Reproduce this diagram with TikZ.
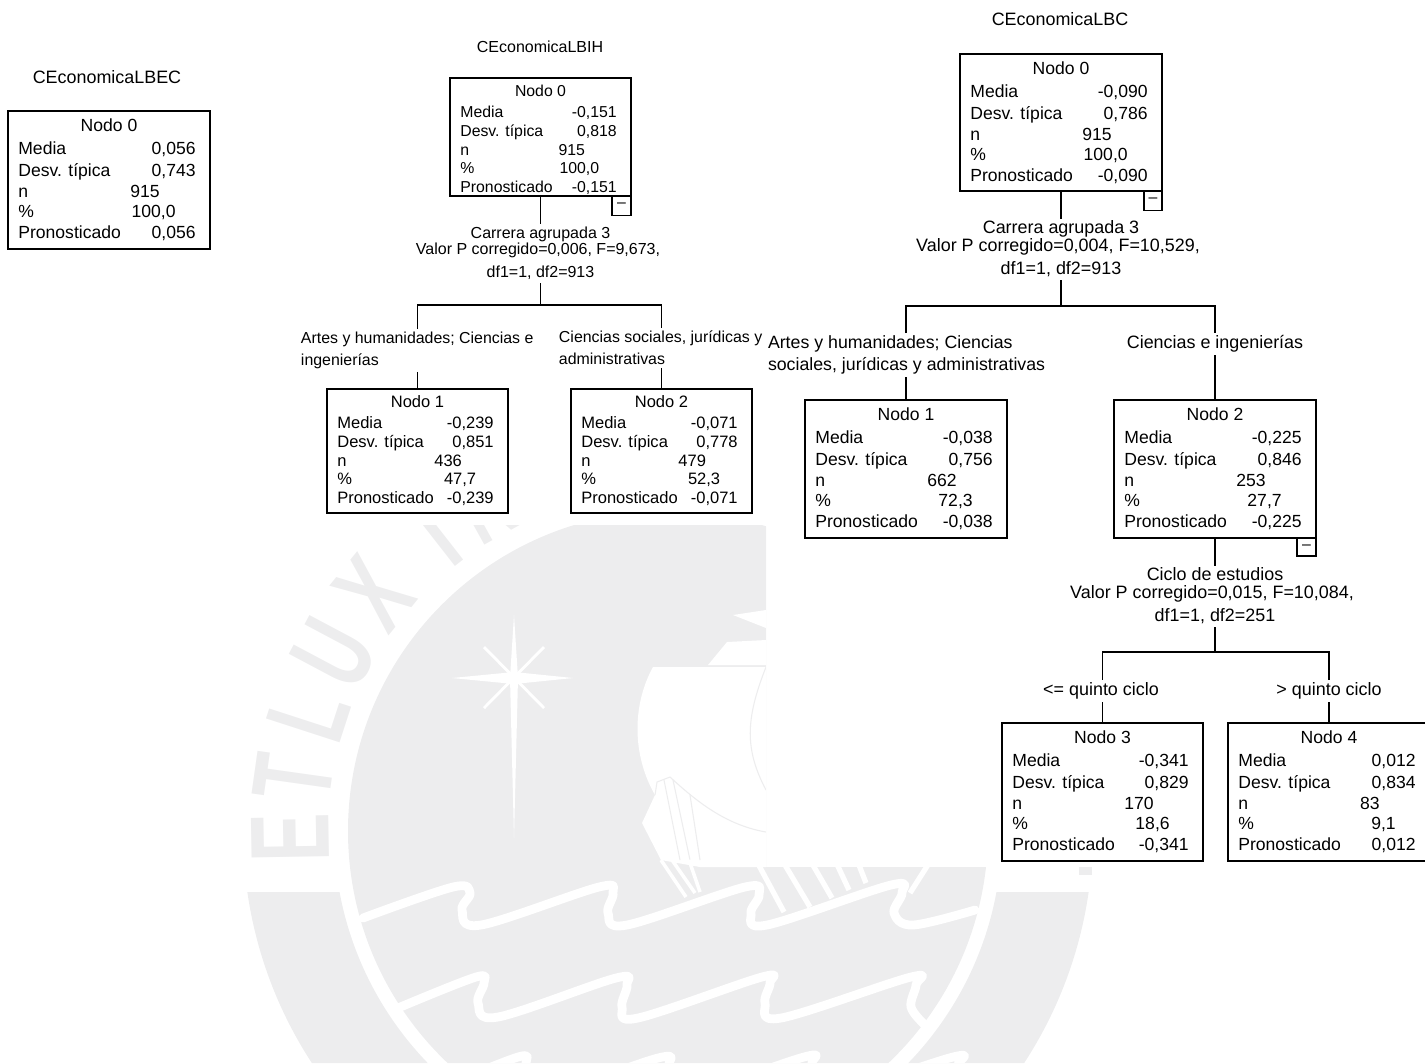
\documentclass[tikz,border=0pt]{standalone}
\usepackage{fontspec}
\setmainfont{Liberation Sans}
\definecolor{sello}{HTML}{EDEDEE}

\begin{document}
\begin{tikzpicture}[x=0.02cm, y=-0.02cm,
  caja/.style={draw, rectangle, line width=0.72pt, inner sep=0pt, outer sep=0pt, anchor=north west},
  fila/.style={inner sep=0pt, text height=7pt, text depth=2pt},
  etq/.style={inner sep=1pt, text height=7pt, text depth=2pt, font=\fontsize{#1}{12.5}\selectfont},
  rama/.style={inner sep=1.5pt, align=left, font=\fontsize{#1}{12.5}\selectfont},
  titulo/.style={inner sep=1pt, font=\fontsize{#1}{12}\selectfont},
  menos/.style={draw, rectangle, line width=0.72pt, inner sep=0pt, outer sep=0pt, minimum width=10.8pt, minimum height=11pt, anchor=north east, font=\fontsize{9}{9}\selectfont},
  linea/.style={line width=0.72pt},
  ola/.style={color=white, line width=5pt, line cap=round, line join=round}]
\useasboundingbox (0,0) rectangle (1425,1063);

% sello de fondo
\begin{scope}
\clip (0,525) -- (766,525) -- (766,867) -- (1425,867) -- (1425,1063) -- (0,1063) -- cycle;
\begin{scope}
\clip (0,892) rectangle (1425,1063);
\fill [sello, even odd rule] (668,831) circle (425) (668,831) circle (334);
\end{scope}
\foreach \letra/\ang in {E/181, T/172, L/162, U/152, X/141, I/128, N/119} {
  \node [text=sello, inner sep=0pt, rotate=\ang-90, font=\bfseries\fontsize{64}{64}\selectfont] (sl\letra)
    at ({668+378*cos(\ang)},{831-378*sin(\ang)}) {\scalebox{0.65}[1]{\letra}};
}
\fill [sello] (1079,867) rectangle (1092,875);
\fill [sello] (668,831) circle (320);
% estrella
\fill [white] (514,615) -- (518,678) -- (514,838) -- (510,678) -- cycle;
\fill [white] (452,678) -- (514,672) -- (573,678) -- (514,684) -- cycle;
\draw [white, line width=1.6pt] (484,647) -- (544,708) (544,647) -- (484,708);
% barco
\fill [white] (733,615) -- (766,610) -- (766,628) -- cycle;
\fill [white] (708,665) -- (727,642) -- (766,640) -- (766,665) -- cycle;
\fill [white] (653,667) -- (766,667) -- (766,867) -- (700,867) -- (661,860) -- (642,823) -- (655,795)
  .. controls (632,755) and (632,705) .. (653,667) -- cycle;
\draw [sello, line width=0.6pt] (655,795) -- (657,782) -- (670,777) .. controls (695,800) and (725,825) .. (766,832);
\draw [sello, line width=0.6pt] (766,667) .. controls (745,720) and (745,750) .. (766,790);
\draw [sello, line width=0.6pt] (664,780) -- (680,860) (673,780) -- (690,860) (690,795) -- (700,860);
\draw [white, line width=2pt] (661,860) -- (686,897) (672,860) -- (695,893) (689,860) -- (700,892);
\draw [white, line width=3pt] (756,860) -- (784,912) (782,860) -- (810,907) (810,860) -- (832,898)
  (835,860) -- (849,890) (857,860) -- (866,883) (910,893) -- (931,860);
% olas
\draw [ola] plot [smooth, tension=0.6] coordinates {(363,918) (453,887) (470,893) (462,910) (481,925) (599,887) (613,893) (608,913) (627,925) (745,887) (759,895) (751,913) (767,925) (891,885) (902,893) (894,913) (913,925) (975,910)};
\foreach \dx/\dy in {0/0, 42/80} {
  \begin{scope}[shift={(\dx,\dy)}]
  \draw [ola] plot [smooth, tension=0.6] coordinates {(398,1008) (476,977) (484,983) (478,1003) (498,1017) (616,978) (627,985) (622,1007) (638,1018) (762,977) (770,983) (765,1003) (781,1018) (911,977) (916,985) (911,1007) (925,1025)};
  \end{scope}
}
\end{scope}

% cajas
\foreach \nm/\xl/\yt/\w/\h/\k/\fs/\nodo/\med/\dt/\cnt/\pct in {
  a0/8/111/202/138/1/10/0/{0,056}/{0,743}/915/{100,0},
  b0/450/78/181/118/0.89/9/0/{-0,151}/{0,818}/915/{100,0},
  b1/327/389/181/124/0.89/9.4/1/{-0,239}/{0,851}/436/{47,7},
  b2/571/389/181/124/0.89/9.4/2/{-0,071}/{0,778}/479/{52,3},
  c0/960/54/202/137/1/10/0/{-0,090}/{0,786}/915/{100,0},
  c1/805/400/202/138/1/10/1/{-0,038}/{0,756}/662/{72,3},
  c2/1114/400/202/138/1/10/2/{-0,225}/{0,846}/253/{27,7},
  c3/1002/723/201/138/1/10/3/{-0,341}/{0,829}/170/{18,6},
  c4/1228/723/202/138/1/10/4/{0,012}/{0,834}/83/{9,1}} {
  \node [caja, minimum width=\w*0.02cm, minimum height=\h*0.02cm] (\nm) at (\xl,\yt) {};
  \begin{scope}[every node/.append style={fila, font=\fontsize{\fs}{12}\selectfont}]
  \node (\nm-tit) at ({\xl+\w/2},{\yt+2+14*\k}) {Nodo \nodo};
  \node [anchor=west] (\nm-l1) at ({\xl+10},{\yt+2+37*\k}) {Media};
  \node [anchor=east] (\nm-v1) at ({\xl+\w-14},{\yt+2+37*\k}) {\med};
  \node [anchor=west] (\nm-l2) at ({\xl+10},{\yt+2+59*\k}) {Desv. típica};
  \node [anchor=east] (\nm-v2) at ({\xl+\w-14},{\yt+2+59*\k}) {\dt};
  \node [anchor=west] (\nm-l3) at ({\xl+10},{\yt+2+80*\k}) {n};
  \node [anchor=east] (\nm-v3) at ({\xl+152*\k},{\yt+2+80*\k}) {\cnt};
  \node [anchor=west] (\nm-l4) at ({\xl+10},{\yt+2+100*\k}) {\%};
  \node [anchor=east] (\nm-v4) at ({\xl+168*\k},{\yt+2+100*\k}) {\pct};
  \node [anchor=west] (\nm-l5) at ({\xl+10},{\yt+2+121*\k}) {Pronosticado};
  \node [anchor=east] (\nm-v5) at ({\xl+\w-14},{\yt+2+121*\k}) {\med};
  \end{scope}
}

% primer arbol
\node [titulo=10.2] (aTit) at (107,77) {CEconomicaLBEC};

% segundo arbol
\node [titulo=9.1] (bTit) at (540,47) {CEconomicaLBIH};
\node [menos] (bMenos) at (b0.south east) {\textendash};
\node [etq=9.1] (bVar) at (540.5,234) {Carrera agrupada 3};
\node [etq=9.1] (bVal) at (538,250) {Valor P corregido=0,006, F=9,673,};
\node [etq=9.1] (bDf) at (540.5,273) {df1=1, df2=913};
\coordinate (bBar) at (b0.south |- 0,305);
\node [rama=9.05, anchor=north west] (bIzq) at (298,329) {Artes y humanidades; Ciencias e\\ingenierías};
\node [rama=9.05, anchor=north west] (bDer) at (556,328) {Ciencias sociales, jurídicas y\\administrativas};
\draw [linea] (b0.south) -- (b0.south |- bVar.north);
\draw [linea] (b0.south |- bDf.south) -- (bBar);
\draw [linea] (b1.north |- bIzq.north) |- (bBar) -| (b2.north |- bDer.north);
\draw [linea] (b1.north |- bIzq.south) -- (b1.north);
\draw [linea] (b2.north |- bDer.south) -- (b2.north);

% tercer arbol
\node [titulo=10.2] (cTit) at (1060,19) {CEconomicaLBC};
\node [menos, minimum width=10.2pt] (cMenos) at (c0.south east) {\textendash};
\node [etq=10.2] (cVar) at (1061,229) {Carrera agrupada 3};
\node [etq=10.2] (cVal) at (1058,247) {Valor P corregido=0,004, F=10,529,};
\node [etq=10.2] (cDf) at (1061,270) {df1=1, df2=913};
\coordinate (cBar) at (c0.south |- 0,306);
\node [rama=10.1, anchor=north west] (cIzq) at (765,333) {Artes y humanidades; Ciencias\\sociales, jurídicas y administrativas};
\node [rama=10.2] (cDer) at (1215,344) {Ciencias e ingenierías};
\draw [linea] (c0.south) -- (c0.south |- cVar.north);
\draw [linea] (c0.south |- cDf.south) -- (cBar);
\draw [linea] (c1.north |- cIzq.north) |- (cBar) -| (c2.north |- cDer.north);
\draw [linea] (c1.north |- cIzq.south) -- (c1.north);
\draw [linea] (c2.north |- cDer.south) -- (c2.north);
\node [menos, minimum width=10.8pt, minimum height=10.2pt] (c2Menos) at (c2.south east) {\textendash};
\node [etq=10.2] (dVar) at (1215,576) {Ciclo de estudios};
\node [etq=10.2] (dVal) at (1212,594) {Valor P corregido=0,015, F=10,084,};
\node [etq=10.2] (dDf) at (1215,617) {df1=1, df2=251};
\coordinate (dBar) at (c2.south |- 0,652);
\node [rama=10.2] (dIzq) at (1101,691) {<= quinto ciclo};
\node [rama=10.2] (dDer) at (1329,691) {> quinto ciclo};
\draw [linea] (c2.south) -- (c2.south |- dVar.north);
\draw [linea] (c2.south |- dDf.south) -- (dBar);
\draw [linea] (c3.north |- dIzq.north) |- (dBar) -| (c4.north |- dDer.north);
\draw [linea] (c3.north |- dIzq.south) -- (c3.north);
\draw [linea] (c4.north |- dDer.south) -- (c4.north);
\end{tikzpicture}
\end{document}
